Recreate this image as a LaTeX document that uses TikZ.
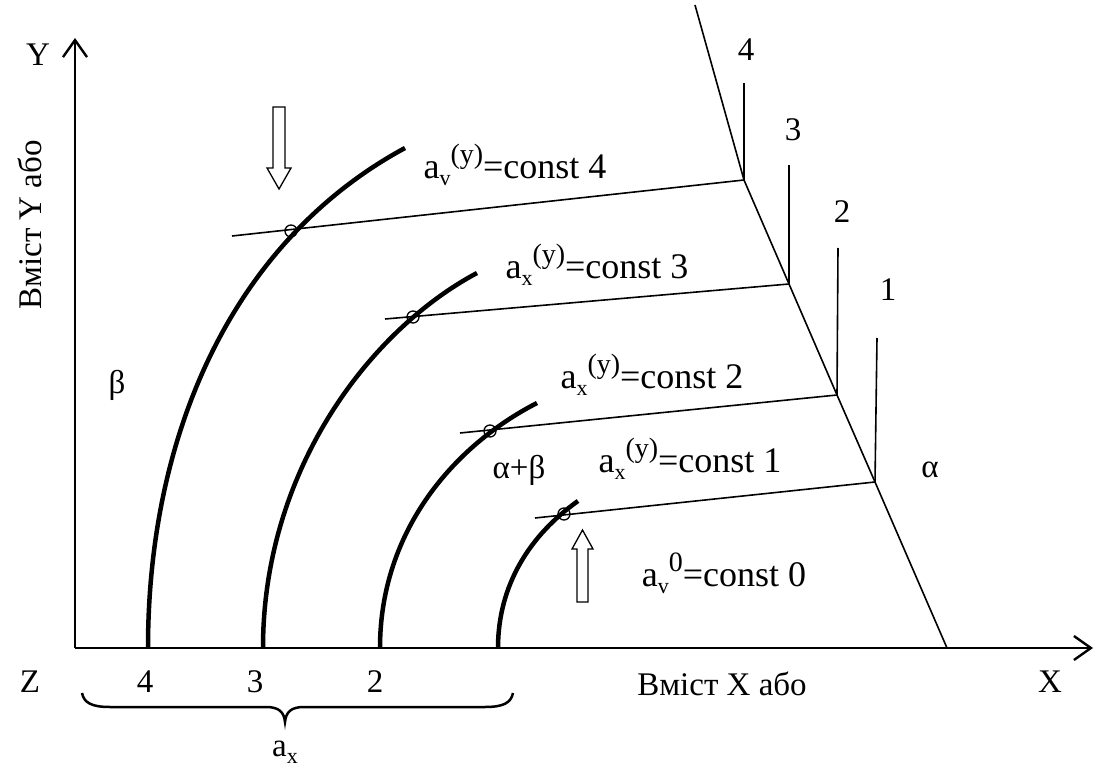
\documentclass[tikz,border=0pt]{standalone}
\usepackage{fontspec}
\setmainfont{Liberation Serif}
\usetikzlibrary{arrows.meta}
\newcommand\mysup[1]{\raisebox{0.42em}{\fontsize{28}{28}\selectfont #1}}
\newcommand\mysub[1]{\raisebox{-0.20em}{\fontsize{22}{22}\selectfont #1}}
\newcommand\cst[3]{a\mysub{#1}\mysup{#2}=const #3}
\begin{document}
\begin{tikzpicture}[x=1pt,y=-1pt,
  lbl/.style={font=\fontsize{33}{36}\selectfont, inner sep=0pt},
  klbl/.style={font=\fontsize{36}{40}\selectfont, inner sep=0pt},
  axisline/.style={line width=2.4pt, -{Straight Barb[length=17pt,width=24pt]}},
  phase/.style={line width=4.5pt},
  thinline/.style={line width=1.6pt},
  hollow/.style={line width=1.3pt, fill=white, line join=miter},
  ring/.style={circle, draw, line width=1.3pt, minimum size=12pt, inner sep=0pt}
]
\useasboundingbox (0,0) rectangle (1109,773);
% axes
\coordinate (O) at (75,648);
\coordinate (Ytip) at (75,38);
\coordinate (Xtip) at (1093,648);
\draw[axisline] (O) -- (Ytip);
\draw[axisline] (O) -- (Xtip);
% axis labels
\node[lbl] (Ylab) at (38,55) {Y};
\node[lbl, rotate=90] (Ytext) at (30,225) {Вміст Y або};
\node[lbl] (Zlab) at (30,682) {Z};
\node[lbl] (Xlab) at (1050,682) {X};
\node[lbl] (Xtext) at (722,684) {Вміст X або};
\node[lbl] (b4) at (145,682) {4};
\node[lbl] (b3) at (255,682) {3};
\node[lbl] (b2) at (375,682) {2};
\node[lbl] (ax) at (285,752) {a\mysub{x}};
% brace
\draw[line width=2.5pt] (82,693) .. controls (84,703) and (92,707) .. (110,707) -- (266,707)
  .. controls (279,707) and (284,712) .. (285,722)
  .. controls (286,712) and (291,707) .. (304,707) -- (485,707)
  .. controls (503,707) and (511,703) .. (513,693);
% region labels
\node[lbl] (beta) at (117,385) {β};
\node[lbl] (ab) at (519,470) {α+β};
\node[lbl] (alpha) at (930,470) {α};
% corners on the alpha boundary
\coordinate (A4) at (744,180);
\coordinate (A3) at (789,284);
\coordinate (A2) at (837,395);
\coordinate (A1) at (875,482);
\coordinate (Dtop) at (695,5);
\coordinate (Dbot) at (947,648);
\draw[thinline] (Dtop) -- (A4) -- (A3) -- (A2) -- (A1) -- (Dbot);
% ticks
\coordinate (T4) at (744,83);
\coordinate (T3) at (789,165);
\coordinate (T2) at (838,248);
\coordinate (T1) at (877,338);
\draw[thinline] (A4) -- (T4);
\draw[thinline] (A3) -- (T3);
\draw[thinline] (A2) -- (T2);
\draw[thinline] (A1) -- (T1);
\node[lbl] (n4) at (746,50) {4};
\node[lbl] (n3) at (793,130) {3};
\node[lbl] (n2) at (842,212) {2};
\node[lbl] (n1) at (888,290) {1};
% phase boundary curves
\draw[phase] (148,648) .. controls (148,430) and (235,240) .. (405,148);
\draw[phase] (263,648) .. controls (263,470) and (370,330) .. (477,273);
\draw[phase] (380,648) .. controls (380,530) and (455,445) .. (537,403);
\draw[phase] (498,648) .. controls (498,585) and (530,535) .. (578,501);
% tie lines
\coordinate (S4) at (232,236);
\coordinate (S3) at (385,319);
\coordinate (S2) at (460,433);
\coordinate (S1) at (535,518);
\draw[thinline] (S4) -- (A4);
\draw[thinline] (S3) -- (A3);
\draw[thinline] (S2) -- (A2);
\draw[thinline] (S1) -- (A1);
% small rings at intersections
\node[ring] (c4) at (291,231) {};
\node[ring] (c3) at (413,317) {};
\node[ring] (c2) at (490,431) {};
\node[ring] (c1) at (564,514) {};
% tie line labels
\node[klbl] (k4) at (515,165) {\cst{v}{(y)}{4}};
\node[klbl] (k3) at (597,265) {\cst{x}{(y)}{3}};
\node[klbl] (k2) at (652,375) {\cst{x}{(y)}{2}};
\node[klbl] (k1) at (690,459) {\cst{x}{(y)}{1}};
\node[klbl] (k0) at (724,573) {\cst{v}{0}{0}};
% hollow arrows
\draw[hollow] (273,107) -- (285,107) -- (285,168) -- (291,168) -- (279,189) -- (267,168) -- (273,168) -- cycle;
\draw[hollow] (577,602) -- (588,602) -- (588,549) -- (593,549) -- (582.5,530) -- (572,549) -- (577,549) -- cycle;
\end{tikzpicture}
\end{document}
